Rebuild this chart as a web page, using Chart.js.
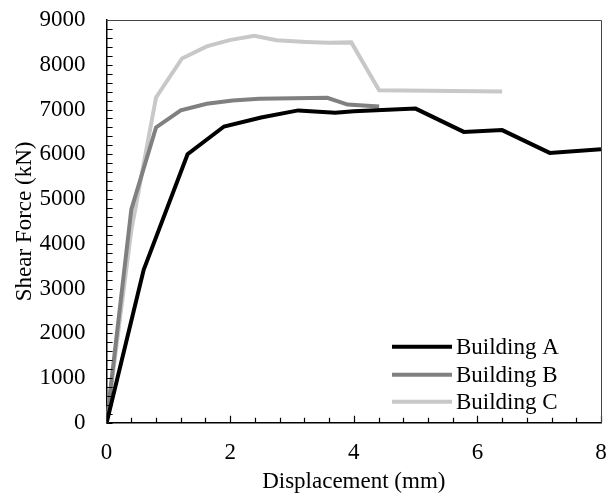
<!DOCTYPE html>
<html>
<head>
<meta charset="utf-8">
<script src="https://cdn.jsdelivr.net/npm/chart.js@4"></script>
<style>
    html, body { margin: 0; padding: 0; background: #fff; }
    #wrap { width: 614px; height: 496px; }
</style>
</head>
<body>
<div id="wrap"><canvas id="myChart"></canvas></div>
<script>
const dispA = [0, 0.6, 1.31, 1.9, 2.5, 3.1, 3.7, 4.0, 5.0, 5.78, 6.4, 7.17, 8.0];
const forceA = [0, 3420, 6000, 6620, 6820, 6980, 6930, 6960, 7020, 6500, 6540, 6030, 6110];

const dispB = [0, 0.4, 0.8, 1.2, 1.62, 2.04, 2.47, 3.57, 3.9, 4.41];
const forceB = [0, 4770, 6600, 6980, 7130, 7200, 7240, 7260, 7110, 7070];

const dispC = [0, 0.4, 0.8, 1.22, 1.62, 1.99, 2.39, 2.75, 3.23, 3.6, 3.96, 4.41, 6.4];
const forceC = [0, 4300, 7270, 8140, 8410, 8550, 8650, 8550, 8510, 8490, 8500, 7430, 7400];

const seriesNames = ['Building A', 'Building B', 'Building C'];
const seriesColors = ['#000000', '#808080', '#c8c8c8'];

const serif = "'Liberation Serif', 'Times New Roman', serif";

function pairs(xs, ys) {
    const out = [];
    for (let i = 0; i < xs.length; i++) {
        out.push({x: xs[i], y: ys[i]});
    }
    return out;
}

// minor ticks (inside), frame and legend
const extras = {
    id: 'extras',
    afterDraw(chart) {
        const c = chart.ctx;
        const a = chart.chartArea;
        const xs = chart.scales.x;
        const ys = chart.scales.y;
        c.save();
        c.strokeStyle = '#000';
        c.lineWidth = 1.2;
        c.beginPath();
        for (let v = 0; v <= 8.001; v += 0.4) {
            const px = Math.round(xs.getPixelForValue(v)) + 0.5;
            const len = Math.abs(v / 2 - Math.round(v / 2)) < 0.01 ? 7 : 5;
            c.moveTo(px, a.bottom);
            c.lineTo(px, a.bottom - len);
        }
        for (let v = 0; v <= 9000; v += 200) {
            const py = Math.round(ys.getPixelForValue(v)) + 0.5;
            c.moveTo(a.left, py);
            c.lineTo(a.left + 6, py);
        }
        c.stroke();

        c.strokeStyle = '#444';
        c.lineWidth = 1;
        c.beginPath();
        c.moveTo(a.left, Math.round(a.top) + 0.5);
        c.lineTo(Math.round(a.right) + 0.5, Math.round(a.top) + 0.5);
        c.lineTo(Math.round(a.right) + 0.5, a.bottom);
        c.stroke();

        // legend
        c.font = '23px ' + serif;
        c.textBaseline = 'middle';
        c.fillStyle = '#000';
        const lx = a.right - 209;
        const rows = [a.bottom - 76, a.bottom - 48, a.bottom - 21];
        for (let i = 0; i < seriesNames.length; i++) {
            c.strokeStyle = seriesColors[i];
            c.lineWidth = 4;
            c.beginPath();
            c.moveTo(lx, rows[i]);
            c.lineTo(lx + 60, rows[i]);
            c.stroke();
            c.fillText(seriesNames[i], lx + 64, rows[i] + 1);
        }
        c.restore();
    }
};

new Chart(document.getElementById('myChart'), {
    type: 'line',
    data: {
        datasets: [
            {
                label: seriesNames[0],
                data: pairs(dispA, forceA),
                borderColor: seriesColors[0],
                borderWidth: 4,
                pointRadius: 0,
                tension: 0,
                fill: false,
            },
            {
                label: seriesNames[1],
                data: pairs(dispB, forceB),
                borderColor: seriesColors[1],
                borderWidth: 4,
                pointRadius: 0,
                tension: 0,
                fill: false,
            },
            {
                label: seriesNames[2],
                data: pairs(dispC, forceC),
                borderColor: seriesColors[2],
                borderWidth: 4,
                pointRadius: 0,
                tension: 0,
                fill: false,
            }
        ]
    },
    options: {
        responsive: true,
        maintainAspectRatio: false,
        animation: false,
        layout: {
            padding: {top: 20, right: 13, left: 11, bottom: 0}
        },
        plugins: {
            legend: {display: false},
            tooltip: {enabled: false}
        },
        scales: {
            x: {
                type: 'linear',
                min: 0,
                max: 8,
                // tick marks are drawn by the plugin; tickLength only reserves space
                grid: {display: false, drawTicks: true, tickLength: 16},
                border: {display: true, color: '#000', width: 1.5},
                ticks: {
                    stepSize: 2,
                    color: '#000',
                    padding: 0,
                    maxRotation: 0,
                    font: {family: serif, size: 23}
                },
                title: {
                    display: true,
                    text: 'Displacement (mm)',
                    color: '#000',
                    padding: {top: 2, bottom: 0},
                    font: {family: serif, size: 23}
                }
            },
            y: {
                min: 0,
                max: 9000,
                grid: {display: false, drawTicks: true, tickLength: 21},
                border: {display: true, color: '#000', width: 1.5},
                ticks: {
                    stepSize: 1000,
                    color: '#000',
                    padding: 0,
                    font: {family: serif, size: 23},
                    callback: (v) => String(v)
                },
                title: {
                    display: true,
                    text: 'Shear Force (kN)',
                    color: '#000',
                    padding: {top: 0, bottom: 1},
                    font: {family: serif, size: 23}
                }
            }
        }
    },
    plugins: [extras]
});
</script>
</body>
</html>
